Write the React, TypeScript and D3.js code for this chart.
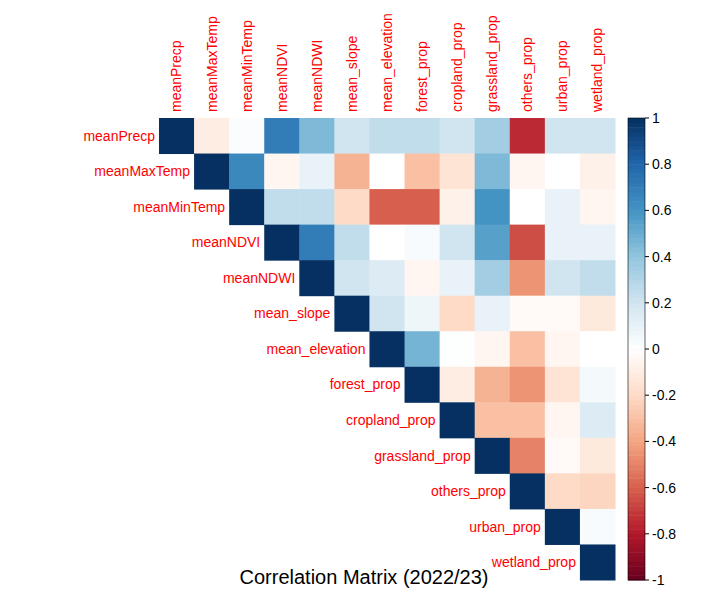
import React from "react";
import * as d3 from "d3";

const vars = ["meanPrecp","meanMaxTemp","meanMinTemp","meanNDVI","meanNDWI","mean_slope","mean_elevation","forest_prop","cropland_prop","grassland_prop","others_prop","urban_prop","wetland_prop"];
const upper: number[][] = [
  [-0.1,0.02,0.7,0.45,0.2,0.25,0.25,0.2,0.35,-0.75,0.2,0.2],
  [0.65,-0.05,0.1,-0.35,0.0,-0.3,-0.15,0.45,-0.05,0.0,-0.08],
  [0.25,0.25,-0.2,-0.6,-0.6,-0.08,0.6,0.0,0.1,-0.05],
  [0.7,0.25,0.0,0.03,0.2,0.55,-0.65,0.1,0.1],
  [0.2,0.15,-0.05,0.1,0.35,-0.45,0.2,0.25],
  [0.2,0.07,-0.2,0.1,-0.03,-0.03,-0.12],
  [0.47,0.01,-0.05,-0.3,-0.05,0.0],
  [-0.1,-0.35,-0.45,-0.15,0.05],
  [-0.3,-0.3,-0.05,0.15],
  [-0.5,-0.03,-0.12],
  [-0.2,-0.22],
  [0.03],
];
const ticks = [1,0.8,0.6,0.4,0.2,0,-0.2,-0.4,-0.6,-0.8,-1];
const palette = ["#67001F","#B2182B","#D6604D","#F4A582","#FDDBC7","#FFFFFF","#D1E5F0","#92C5DE","#4393C3","#2166AC","#053061"];

export default function App() {
  const n = vars.length;
  const x = d3.scaleBand<number>().domain(d3.range(n)).range([159, 615]);
  const y = d3.scaleBand<number>().domain(d3.range(n)).range([118, 580]);
  const color = d3.scaleLinear<string>().domain(d3.range(11).map(i => -1 + i * 0.2)).range(palette).interpolate(d3.interpolateRgb);
  const cy = d3.scaleLinear().domain([1, -1]).range([118, 580]);
  const cells: { i: number; j: number; v: number }[] = [];
  for (let i = 0; i < n; i++) {
    cells.push({ i, j: i, v: 1 });
    upper[i]?.forEach((v, k) => cells.push({ i, j: i + 1 + k, v }));
  }
  const grad = d3.range(100).map(k => -1 + (k + 0.5) * 0.02);
  return (
    <svg width={728} height={593} style={{ position: "absolute", left: 0, top: 0, display: "block", fontFamily: "Arial, 'Liberation Sans', sans-serif" }}>
      {cells.map(c => (
        <rect key={c.i + "-" + c.j} x={x(c.j)} y={y(c.i)} width={x.bandwidth() + 0.5} height={y.bandwidth() + 0.5} fill={color(c.v)} />
      ))}
      {vars.map((v, i) => (
        <text key={"r" + v} x={(x(i) as number) - 4} y={(y(i) as number) + y.bandwidth() / 2} dy="0.35em" textAnchor="end" fill="red" fontSize={14}>{v}</text>
      ))}
      {vars.map((v, i) => (
        <text key={"c" + v} transform={`translate(${(x(i) as number) + x.bandwidth() / 2},112) rotate(-90)`} dy="0.35em" fill="red" fontSize={14}>{v}</text>
      ))}
      {grad.map(g => (
        <rect key={g} x={628} y={cy(g + 0.01)} width={17} height={(cy(-1) - cy(1)) / 100 + 0.5} fill={color(g)} />
      ))}
      <rect x={628} y={118} width={17} height={462} fill="none" stroke="#000" strokeWidth={0.6} />
      {ticks.map(t => (
        <g key={t}>
          <line x1={645} x2={649} y1={cy(t)} y2={cy(t)} stroke="#000" />
          <text x={652} y={cy(t)} dy="0.35em" fontSize={14}>{t}</text>
        </g>
      ))}
      <text x={364} y={584} textAnchor="middle" fontSize={20}>Correlation Matrix (2022/23)</text>
    </svg>
  );
}
